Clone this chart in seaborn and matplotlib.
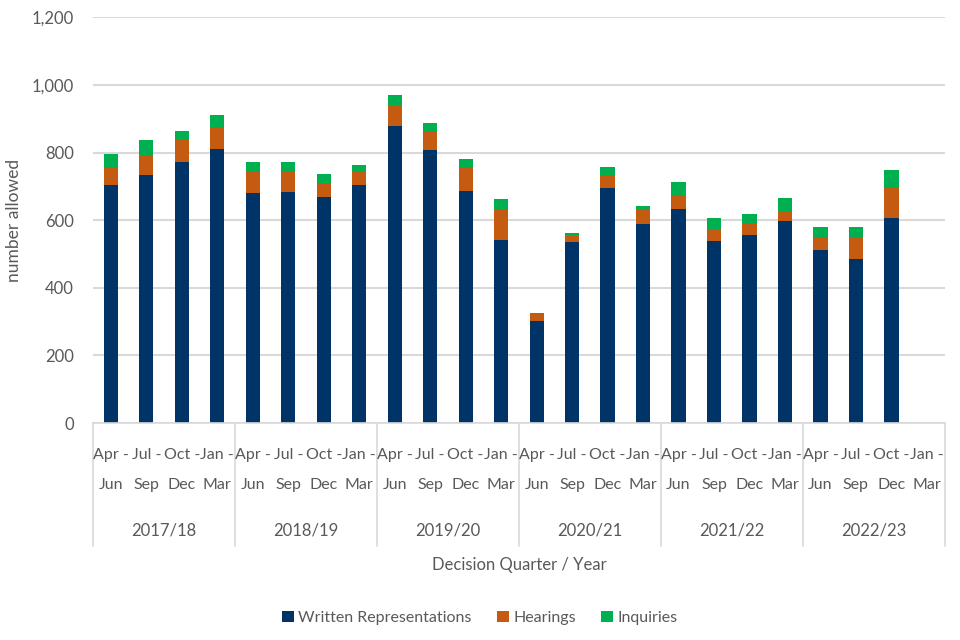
import numpy as np
import pandas as pd
import matplotlib
matplotlib.use("Agg")
import matplotlib.pyplot as plt
import seaborn as sns

years = ["2017/18", "2018/19", "2019/20", "2020/21", "2021/22", "2022/23"]
q_start = ["Apr -", "Jul -", "Oct -", "Jan -"]
q_end = ["Jun", "Sep", "Dec", "Mar"]

written = [703, 733, 771, 811, 680, 683, 668, 703, 878, 807, 685, 541,
           302, 536, 696, 588, 633, 537, 555, 598, 511, 485, 607, np.nan]
hearings = [53, 60, 70, 65, 61, 63, 42, 38, 62, 54, 68, 88,
            19, 20, 36, 41, 39, 38, 38, 30, 36, 62, 91, np.nan]
inquiries = [39, 43, 23, 35, 30, 25, 26, 21, 31, 25, 27, 34,
             5, 7, 25, 14, 40, 30, 25, 38, 34, 32, 51, np.nan]

cats = [f"{y} {q}" for y in years for q in q_end]
df = pd.DataFrame({"cat": cats, "written": written, "hearings": hearings, "inquiries": inquiries})
df["wh"] = df["written"] + df["hearings"]
df["total"] = df["wh"] + df["inquiries"]

navy = "#003366"
orange = "#C55A11"
green = "#00B050"
grey_txt = "#595959"
grid_c = "#D9D9D9"

sns.set_style("white")
plt.rcParams["font.family"] = ["Lato", "DejaVu Sans"]

fig = plt.figure(figsize=(9.6, 6.4), dpi=100)
ax = fig.add_axes([0.097, 0.339, 0.887, 0.634])

sns.barplot(data=df, x="cat", y="total", order=cats, color=green, width=0.4,
            errorbar=None, saturation=1, linewidth=0, ax=ax, label="Inquiries")
sns.barplot(data=df, x="cat", y="wh", order=cats, color=orange, width=0.4,
            errorbar=None, saturation=1, linewidth=0, ax=ax, label="Hearings")
sns.barplot(data=df, x="cat", y="written", order=cats, color=navy, width=0.4,
            errorbar=None, saturation=1, linewidth=0, ax=ax, label="Written Representations")

ax.set_ylim(0, 1200)
ax.set_xlim(-0.5, len(cats) - 0.5)
ax.set_yticks(range(0, 1201, 200))
ax.set_yticklabels([f"{v:,}" for v in range(0, 1201, 200)], fontsize=12, color=grey_txt)
ax.yaxis.grid(True, color=grid_c, linewidth=1.5)
ax.set_axisbelow(True)
for s in ["top", "right", "left"]:
    ax.spines[s].set_visible(False)
ax.spines["bottom"].set_color(grid_c)
ax.spines["bottom"].set_linewidth(1.2)
ax.tick_params(axis="y", length=0, pad=14)

ax.set_xticks(range(len(cats)))
ax.set_xticklabels([""] * len(cats))
ax.tick_params(axis="x", length=0)
ax.set_xlabel("")
ax.set_ylabel("number allowed", fontsize=12.5, color=grey_txt)
ax.yaxis.set_label_coords(-0.083, 0.5)

trans = ax.get_xaxis_transform()
for i in range(len(cats)):
    ax.text(i, -0.079, q_start[i % 4], transform=trans, ha="center", va="center",
            fontsize=11.5, color=grey_txt)
    ax.text(i, -0.153, q_end[i % 4], transform=trans, ha="center", va="center",
            fontsize=11.5, color=grey_txt)
for i in range(len(years) + 1):
    xb = i * 4 - 0.5
    ax.plot([xb, xb], [0, -0.303], transform=trans, color=grid_c, lw=1.2, clip_on=False)
for i, y in enumerate(years):
    ax.text(i * 4 + 1.5, -0.266, y, transform=trans, ha="center", va="center",
            fontsize=12, color=grey_txt)
ax.text(0.5, -0.35, "Decision Quarter / Year", transform=ax.transAxes,
        ha="center", va="center", fontsize=12, color=grey_txt)

handles, labels = ax.get_legend_handles_labels()
order = [labels.index(n) for n in ["Written Representations", "Hearings", "Inquiries"]]
leg = fig.legend([handles[i] for i in order], [labels[i] for i in order],
                 loc="center", bbox_to_anchor=(0.5, 1 - 618 / 640), ncol=3,
                 frameon=False, fontsize=11.5, handlelength=0.7, handleheight=0.7,
                 handletextpad=0.3, columnspacing=1.6, labelcolor=grey_txt)
if ax.get_legend():
    ax.get_legend().remove()

fig.savefig("out.png", dpi=100)
